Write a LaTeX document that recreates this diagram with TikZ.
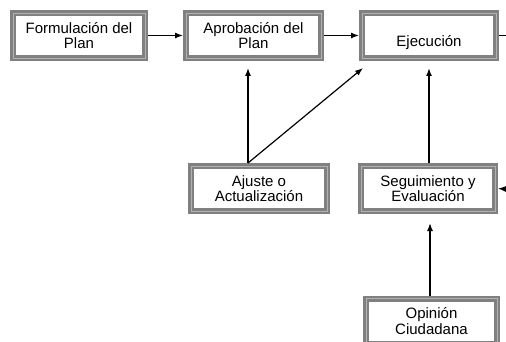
\documentclass[tikz,border=0pt]{standalone}
\usepackage{fontspec}
\setmainfont{Liberation Sans}
\usetikzlibrary{arrows.meta}
\tikzset{
  caja/.style={draw=black!50, double=black!30, double distance=0.8pt, line width=2.6pt,
    fill=white, minimum width=134pt, minimum height=45pt, inner sep=0pt, outer sep=3pt,
    align=center, font=\fontsize{15}{15.5}\selectfont},
  flecha/.style={line width=1.2pt, -{Latex[length=8pt,width=6pt]}},
}

\begin{document}
\begin{tikzpicture}[x=1pt,y=-1pt]
			%%%%% CAJAS %%%%%
			\useasboundingbox (0,0) rectangle (506,342);
			
			\node[caja, minimum width=132pt] (formulacion) at (79,35.5) {Formulación del\\Plan};
			\node[caja, minimum width=135pt] (aprobacion) at (253.5,35.5) {Aprobación del\\Plan};
			\node[caja, text height=22.4pt, text depth=0pt] (ejecucion) at (429,35.5) {Ejecución};
			
			\node[caja, minimum width=136pt] (ajuste) at (259,188.5) {Ajuste o\\Actualización};
			\node[caja] (seguimiento) at (428,188.5) {Seguimiento y\\Evaluación};
			
			\node[caja, minimum width=131pt] (opinion) at (431.5,321) {Opinión\\Ciudadana};
			
			%%%%% FLECHAS %%%%%
			\coordinate (salida) at (506,35.5);
			\coordinate (entrada) at (506,189);
			
			\draw[flecha] (formulacion.east) -- (aprobacion.west);
			\draw[flecha] (aprobacion.east) -- (ejecucion.west);
			\draw[line width=1.2pt] (ejecucion.east) -- (salida);
			
			\draw[flecha, shorten >=7pt] ([xshift=-11pt]ajuste.north) -- ([xshift=-11pt]ajuste.north |- aprobacion.south);
			\draw[flecha] ([xshift=-11pt]ajuste.north) -- ([shift={(4,7)}]ejecucion.south west);
			
			\draw[flecha, line width=1.5pt, shorten >=7pt] ([xshift=1pt]seguimiento.north) -- ([xshift=1pt]seguimiento.north |- ejecucion.south);
			\draw[flecha, line width=1.5pt, shorten >=9pt] ([xshift=-1.5pt]opinion.north) -- ([xshift=-1.5pt]opinion.north |- seguimiento.south);
			\draw[flecha] (entrada) -- (seguimiento.east);
			
			%%%%% FIN %%%%%
\end{tikzpicture}
\end{document}
